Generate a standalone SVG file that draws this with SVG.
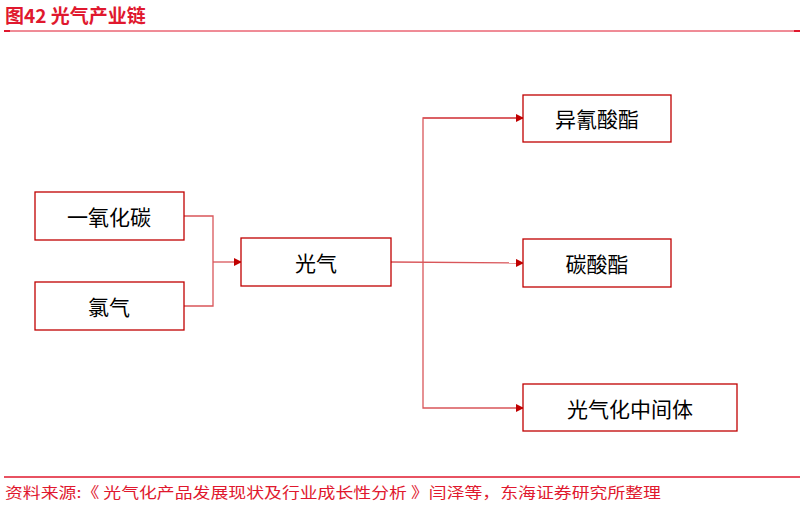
<svg xmlns="http://www.w3.org/2000/svg" width="805" height="506" viewBox="0 0 805 506">
<style>
.box{fill:#fff;stroke:#c00000;stroke-width:1.3}
.t{font-family:"Noto Sans CJK SC","Liberation Sans",sans-serif;font-size:21px;fill:#000;text-anchor:middle;dominant-baseline:central}
.c{fill:none;stroke:#d9565a;stroke-width:1.3}
</style>
<defs><marker id="a" markerWidth="8" markerHeight="8" refX="7" refY="4" orient="auto" markerUnits="userSpaceOnUse"><path d="M0,0 L8,4 L0,8 z" fill="#c00000"/></marker></defs>
<rect width="805" height="506" fill="#fff"/>
<text x="5" y="23" font-family="Noto Sans CJK SC,sans-serif" font-size="19" font-weight="bold" fill="#e0182e">图42  光气产业链</text>
<line x1="4" y1="31" x2="800" y2="31" stroke="#e0182e" stroke-width="1"/>
<rect x="4" y="30" width="6" height="2" fill="#e0182e"/><rect x="794" y="30" width="6" height="2" fill="#e0182e"/>
<g id="connectors">
<polyline class="c" points="184,216 213,216 213,306 184,306"/>
<line class="c" x1="213" y1="262" x2="241" y2="262" marker-end="url(#a)"/>
<line class="c" x1="391" y1="262" x2="523" y2="263" marker-end="url(#a)"/>
<polyline class="c" points="523,118 423,118 423,408 523,408" marker-end="url(#a)"/>
<line class="c" x1="423" y1="118" x2="523" y2="118" marker-end="url(#a)"/>
</g>
<g id="n1"><rect class="box" x="35" y="192" width="149" height="48"/><text class="t" x="109" y="216">一氧化碳</text></g>
<g id="n2"><rect class="box" x="35" y="282" width="149" height="48"/><text class="t" x="109" y="306">氯气</text></g>
<g id="n3"><rect class="box" x="241" y="238" width="150" height="48"/><text class="t" x="316" y="262">光气</text></g>
<g id="n4"><rect class="box" x="523" y="95" width="148" height="47"/><text class="t" x="597" y="118">异氰酸酯</text></g>
<g id="n5"><rect class="box" x="523" y="239" width="148" height="48"/><text class="t" x="597" y="263">碳酸酯</text></g>
<g id="n6"><rect class="box" x="523" y="384" width="214" height="47"/><text class="t" x="630" y="408">光气化中间体</text></g>
<line x1="4" y1="477" x2="800" y2="477" stroke="#e0182e" stroke-width="1.5"/>
<text x="5" y="498" font-family="Noto Sans CJK SC,sans-serif" font-size="15" textLength="656" lengthAdjust="spacingAndGlyphs" fill="#e0182e">资料来源:《 光气化产品发展现状及行业成长性分析 》闫泽等，东海证券研究所整理</text>
</svg>
